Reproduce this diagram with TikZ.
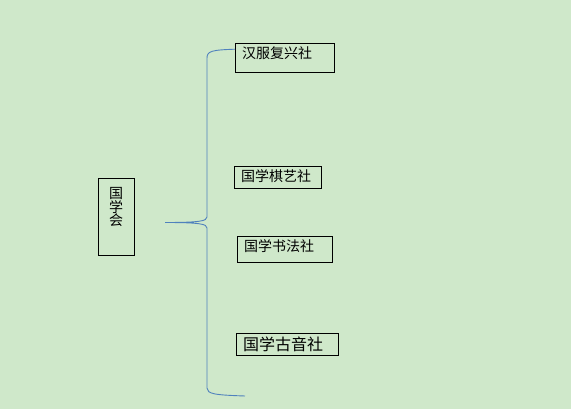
\documentclass[tikz,border=0pt]{standalone}
\usepackage{fontspec}
\newfontfamily\cjk{Noto Sans CJK SC}
\usepackage{tikz}
\usetikzlibrary{calc}
\usepackage{xcolor}
\definecolor{paleleaf}{RGB}{207,232,202}
\definecolor{bracketblue}{RGB}{79,129,189}

\begin{document}
\begin{tikzpicture}[x=1pt, y=-1pt,
    club/.style={draw, anchor=north west, inner xsep=7pt, inner ysep=0pt,
      align=left, text height=15.5pt, font=\cjk\fontsize{14}{14}\selectfont}]
        % Background
        \fill[paleleaf] (0,0) rectangle (571,409);
        \useasboundingbox (0,0) rectangle (571,409);

        % Society (left box, vertical text)
        \node[draw, anchor=north west, inner sep=0pt, minimum width=36pt,
          align=center, text width=36pt, text height=20.5pt, text depth=56.5pt,
          font=\cjk\fontsize{14}{13.5}\selectfont] (hub) at (98,178)
          {国\\学\\会};

        % Clubs
        \node[club, text width=85pt, text depth=13.5pt] (hanfu) at (235,43) {汉服复兴社};
        \node[club, text width=73pt, text depth=6.5pt] (chess) at (234,166) {国学棋艺社};
        \node[club, text width=81pt, text depth=10.5pt] (callig) at (237,236) {国学书法社};
        \node[club, text width=88pt, text height=17.3pt, text depth=4.7pt,
          font=\cjk\fontsize{16}{16}\selectfont] (music) at (236,333) {国学古音社};

        % Bracket
        \coordinate (tip) at (165,222.5);
        \coordinate (lowend) at (245,396);
        \draw[bracketblue, line width=0.9pt]
          ([yshift=8.5pt]hanfu.west) .. controls (212,50) and (207,51) .. (207,58)
          -- (207,217) .. controls (207,221) and (200,222.5) .. (tip)
          .. controls (200,222.5) and (207,224) .. (207,228)
          -- (207,388) .. controls (207,394) and (215,395) .. (lowend);
      \end{tikzpicture}
\end{document}
